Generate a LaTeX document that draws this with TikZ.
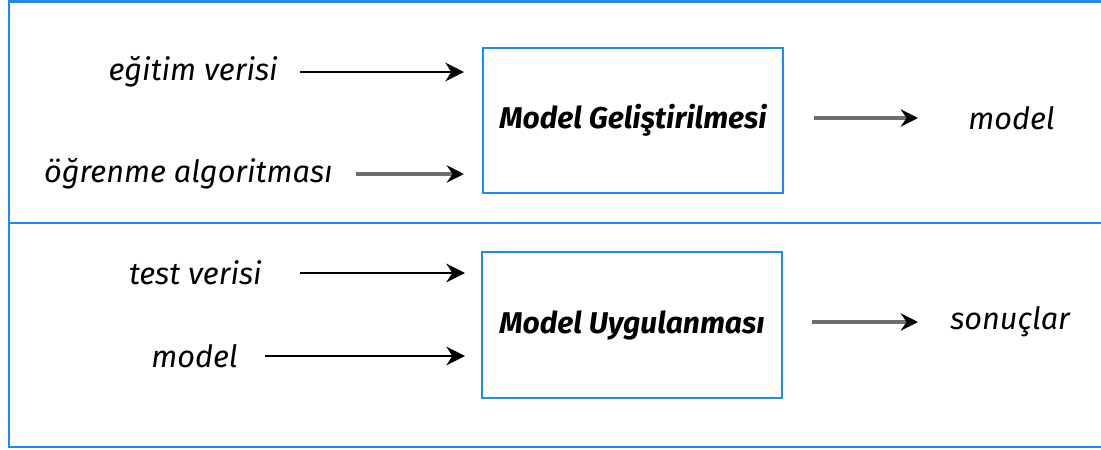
\documentclass[tikz,border=0pt]{standalone}
\usepackage{fontspec}
\setmainfont{Fira Sans}
\usetikzlibrary{arrows.meta}
\definecolor{frameblue}{RGB}{30,136,255}
\definecolor{shaftgray}{RGB}{110,110,110}
\begin{document}
\begin{tikzpicture}[x=0.75pt,y=-0.75pt,
  framerule/.style={draw=frameblue,line width=2pt},
  stagebox/.style={draw=frameblue,line width=1.5pt,minimum width=225pt,minimum height=109pt,inner sep=0pt,
    font=\fontsize{22.5}{26}\selectfont\bfseries\itshape},
  inlabel/.style={inner sep=0pt,anchor=east,font=\fontsize{23}{26}\selectfont\itshape},
  outlabel/.style={inner sep=0pt,anchor=west,font=\fontsize{23}{26}\selectfont\itshape},
  inarrow/.style={draw=black,line width=1.4pt,-{Stealth[length=14pt,width=14pt,inset=4.5pt]}},
  outarrow/.style={draw=shaftgray,line width=2.6pt,-{Stealth[length=13pt,width=13pt,inset=4.5pt,color=black]}}
]
\useasboundingbox (0,0) rectangle (1101,450);

% frame of the two stages
\draw[framerule] (1101,1.3) -- (9,1.3) -- (9,447) -- (1101,447);
\draw[framerule] (9,223) -- (1101,223);

% training stage
\node[stagebox] (b1) at (633,120.5) {Model Geliştirilmesi};
\node[inlabel] (l1) at (278,72) {eğitim verisi};
\node[inlabel] (l2) at (333,174) {öğrenme algoritması};
\node[outlabel] (o1) at (968,118) {model};

\draw[inarrow,shorten <=16.5pt,shorten >=13.5pt] (l1.east) -- (l1.east -| b1.west);
\draw[outarrow,shorten <=17pt,shorten >=13.5pt] (l2.east) -- (l2.east -| b1.west);
\draw[outarrow,shorten <=22.5pt,shorten >=37.5pt] (b1.east |- o1.west) -- (o1.west);

% application stage
\node[stagebox] (b2) at (632,325) {Model Uygulanması};
\node[inlabel] (l3) at (262,273) {test verisi};
\node[inlabel] (l4) at (238,356) {model};
\node[outlabel] (o2) at (950,322) {sonuçlar};

\draw[inarrow,shorten <=28.5pt,shorten >=12pt] (l3.east) -- (l3.east -| b2.west);
\draw[inarrow,shorten <=20pt,shorten >=12pt] (l4.east) -- (l4.east -| b2.west);
\draw[outarrow,shorten <=21.75pt,shorten >=24pt] (b2.east |- o2.west) -- (o2.west);
\end{tikzpicture}
\end{document}
